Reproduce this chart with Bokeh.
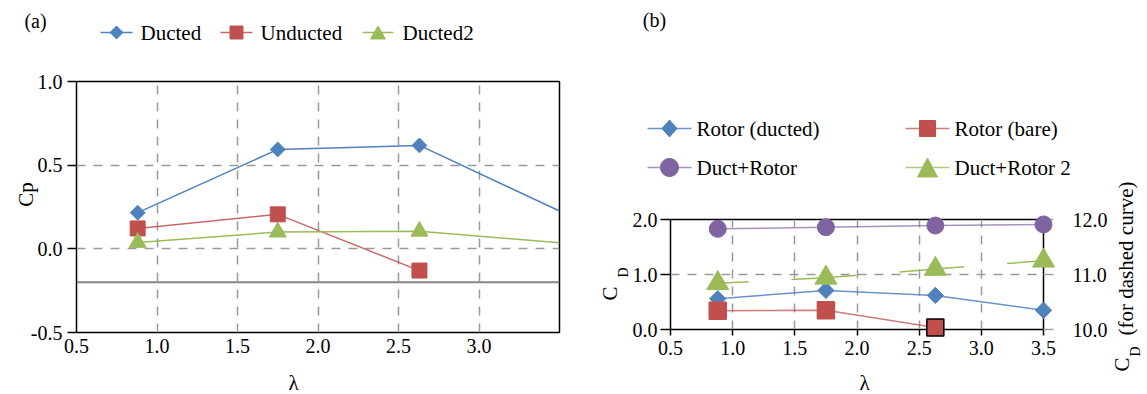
import math
from bokeh.plotting import figure
from bokeh.layouts import row
from bokeh.core.properties import value
from bokeh.models import (ColumnDataSource, Range1d, LinearAxis, FixedTicker, Span,
                          PrintfTickFormatter)
from bokeh.embed import file_html
from bokeh.resources import INLINE

# ---------------- data ----------------
lam = [0.88, 1.75, 2.63, 3.5]

# panel (a)
cp_ducted = [0.216, 0.594, 0.618, 0.226]
cp_unducted = [0.122, 0.206, -0.13]
cp_ducted2 = [0.038, 0.100, 0.105, 0.036]
cp_reference = -0.2
xticks_a = [0.5, 1.0, 1.5, 2.0, 2.5, 3.0]
yticks_a = [-0.5, 0.0, 0.5, 1.0]
legend_a = ["Ducted", "Unducted", "Ducted2"]

# panel (b)
cd_rotor_ducted = [0.56, 0.71, 0.62, 0.35]
cd_rotor_bare = [0.34, 0.35, 0.036]
cd_duct_rotor = [1.83, 1.86, 1.89, 1.91]
cd_duct_rotor2 = [10.84, 10.94, 11.10, 11.25]   # right axis (dashed curve)
xticks_b = [0.5, 1.0, 1.5, 2.0, 2.5, 3.0, 3.5]
yticks_b = [0.0, 1.0, 2.0]
yticks_b_right = [10.0, 11.0, 12.0]
legend_b = ["Rotor (ducted)", "Rotor (bare)", "Duct+Rotor", "Duct+Rotor 2"]

# ---------------- style ----------------
FONT = "'Liberation Serif', 'DejaVu Serif', serif"
TICK_FS = "20px"
LEG_FS = "21px"
BLUE = "#4f81bd"
RED = "#c0504d"
GREEN = "#9bbb59"
PURPLE = "#8064a2"
GRID = "#9a9a9a"
H = 394

XR_A, YR_A = (0.5, 3.5), (-0.5, 1.0)
FRAME_A = (76, 559, 81, 332)          # left, right, top, bottom (figure pixels)
XR_B, YR_B, YR_B2 = (0.5, 3.5), (0.0, 2.0), (10.0, 12.0)
FRAME_B = (90, 463, 219, 329)


def style_axis(ax, tick_out, color="black"):
    ax.major_label_text_font = FONT
    ax.major_label_text_font_size = TICK_FS
    ax.major_label_text_color = "black"
    ax.major_tick_out = tick_out
    ax.major_tick_in = 0
    ax.minor_tick_out = 0
    ax.minor_tick_in = 0
    ax.major_tick_line_color = color
    ax.major_tick_line_width = 1.5
    ax.axis_line_color = None


def style_fig(p):
    p.outline_line_color = "black"
    p.outline_line_width = 1.5
    p.outline_line_alpha = 1.0
    p.background_fill_color = "white"
    p.border_fill_color = "white"
    for g in (p.xgrid[0], p.ygrid[0]):
        g.grid_line_color = GRID
        g.grid_line_dash = "9 8"
        g.grid_line_width = 1.5


def to_data(frame, xr, yr, px, py):
    l, r, t, b = frame
    return (xr[0] + (px - l) / (r - l) * (xr[1] - xr[0]),
            yr[0] + (b - py) / (b - t) * (yr[1] - yr[0]))


def add_text(p, frame, xr, yr, px, py, txt, size, angle=0.0, align="center"):
    x, y = to_data(frame, xr, yr, px, py)
    p.text(x=[x], y=[y], text=[txt], angle=angle,
           text_font=value(FONT), text_font_size=size, text_color="black",
           text_align=align, text_baseline="middle", level="overlay")


def key_shape(kind, cx, cy, w, h):
    """pixel outline of a legend key symbol"""
    if kind == "diamond":
        return [cx, cx + w / 2, cx, cx - w / 2], [cy - h / 2, cy, cy + h / 2, cy]
    if kind == "square":
        return [cx - w / 2, cx + w / 2, cx + w / 2, cx - w / 2], [cy - h / 2, cy - h / 2, cy + h / 2, cy + h / 2]
    if kind == "triangle":
        return [cx, cx + w / 2, cx - w / 2], [cy - h / 2, cy + h / 2, cy + h / 2]
    n = 36
    return ([cx + w / 2 * math.cos(2 * math.pi * k / n) for k in range(n)],
            [cy + h / 2 * math.sin(2 * math.pi * k / n) for k in range(n)])


def legend_key(p, frame, xr, yr, gx0, gx1, gy, tx, label, line_kw, kind, w, h, color):
    x0, y0 = to_data(frame, xr, yr, gx0, gy)
    x1, _ = to_data(frame, xr, yr, gx1, gy)
    p.line([x0, x1], [y0, y0], level="overlay", **line_kw)
    pxs, pys = key_shape(kind, (gx0 + gx1) / 2, gy, w, h)
    pts = [to_data(frame, xr, yr, a, b) for a, b in zip(pxs, pys)]
    p.patch([q[0] for q in pts], [q[1] for q in pts], fill_color=color, line_color=color,
            line_width=1, level="overlay")
    add_text(p, frame, xr, yr, tx, gy, label, LEG_FS, align="left")


# ================= panel (a) =================
pa = figure(width=580, height=H, x_range=Range1d(*XR_A), y_range=Range1d(*YR_A),
            output_backend="svg", toolbar_location=None, frame_align=False,
            min_border_left=76, min_border_right=21, min_border_top=81, min_border_bottom=62)
style_fig(pa)
pa.xaxis.ticker = FixedTicker(ticks=xticks_a)
pa.yaxis.ticker = FixedTicker(ticks=yticks_a)
pa.xgrid.ticker = FixedTicker(ticks=xticks_a)
pa.ygrid.ticker = FixedTicker(ticks=yticks_a)
pa.xaxis.formatter = PrintfTickFormatter(format="%.1f")
pa.yaxis.formatter = PrintfTickFormatter(format="%.1f")
style_axis(pa.xaxis[0], 0)
style_axis(pa.yaxis[0], 9)
pa.xaxis.major_label_standoff = 6
pa.yaxis.major_label_standoff = 5

pa.add_layout(Span(location=cp_reference, dimension="width", line_color="#858585", line_width=2))

ln_blue_a = dict(line_color=BLUE, line_width=1.5)
ln_red_a = dict(line_color=RED, line_width=1.5, line_alpha=0.85)
ln_green_a = dict(line_color=GREEN, line_width=1.5)

pa.line(lam, cp_ducted, **ln_blue_a)
pa.scatter(lam[:3], cp_ducted[:3], marker="square", angle=math.pi / 4, size=10.5,
           fill_color=BLUE, line_color=BLUE)
pa.line(lam[:3], cp_unducted, **ln_red_a)
pa.scatter(lam[:3], cp_unducted, marker="square", size=15, fill_color=RED, line_color=RED)
pa.line(lam, cp_ducted2, **ln_green_a)
pa.scatter(lam[:3], cp_ducted2[:3], marker="triangle", size=17, fill_color=GREEN, line_color=GREEN)

# legend (a) – one row above the frame
leg_a_keys = [((100, 132, 140), ln_blue_a, "diamond", 13, 13, BLUE),
              ((220, 252, 260), ln_red_a, "square", 13, 13, RED),
              ((362, 393, 402), ln_green_a, "triangle", 15, 13, GREEN)]
for ((g0, g1, tx), lk, kind, w, h, c), lab in zip(leg_a_keys, legend_a):
    legend_key(pa, FRAME_A, XR_A, YR_A, g0, g1, 32, tx, lab, lk, kind, w, h, c)

add_text(pa, FRAME_A, XR_A, YR_A, 35, 20, "(a)", "20px")
add_text(pa, FRAME_A, XR_A, YR_A, 25, 194, "Cp", "21px", angle=math.pi / 2)
add_text(pa, FRAME_A, XR_A, YR_A, 293, 382, "λ", "21px")

# ================= panel (b) =================
pb = figure(width=567, height=H, x_range=Range1d(*XR_B), y_range=Range1d(*YR_B),
            output_backend="svg", toolbar_location=None, frame_align=False,
            min_border_left=90, min_border_right=104, min_border_top=219, min_border_bottom=65)
style_fig(pb)
pb.extra_y_ranges = {"right": Range1d(*YR_B2)}
pb.xaxis.ticker = FixedTicker(ticks=xticks_b)
pb.yaxis.ticker = FixedTicker(ticks=yticks_b)
pb.xgrid.ticker = FixedTicker(ticks=xticks_b)
pb.ygrid.ticker = FixedTicker(ticks=yticks_b)
pb.xaxis.formatter = PrintfTickFormatter(format="%.1f")
pb.yaxis.formatter = PrintfTickFormatter(format="%.1f")
style_axis(pb.xaxis[0], 6)
style_axis(pb.yaxis[0], 10)
pb.xaxis.major_label_standoff = 5
pb.yaxis.major_label_standoff = 3

yr = LinearAxis(y_range_name="right", ticker=FixedTicker(ticks=yticks_b_right),
                formatter=PrintfTickFormatter(format="%.1f"))
style_axis(yr, 10, color="#a0a0a0")
yr.major_label_standoff = 19
pb.add_layout(yr, "right")

ln_purple_b = dict(line_color=PURPLE, line_width=1.5, line_alpha=0.7)
ln_blue_b = dict(line_color=BLUE, line_width=1.5, line_alpha=0.85)
ln_green_b = dict(line_color=GREEN, line_width=1.5, line_alpha=0.8)
ln_red_b = dict(line_color=RED, line_width=1.5, line_alpha=0.75)

pb.line(lam, cd_duct_rotor, **ln_purple_b)
pb.scatter(lam, cd_duct_rotor, marker="circle", size=17, fill_color=PURPLE, line_color=PURPLE,
           level="overlay")
pb.line(lam, cd_rotor_ducted, **ln_blue_b)
pb.scatter(lam, cd_rotor_ducted, marker="square", angle=math.pi / 4, size=11.5,
           fill_color=BLUE, line_color=BLUE, level="overlay")
pb.line(lam, cd_duct_rotor2, y_range_name="right", line_dash="65 43", line_dash_offset=34,
        line_color=GREEN, line_width=1.5)
pb.scatter(lam, cd_duct_rotor2, y_range_name="right", marker="triangle", size=22,
           fill_color=GREEN, line_color=GREEN, level="overlay")
pb.line(lam[:3], cd_rotor_bare, **ln_red_b)
src_bare = ColumnDataSource(dict(x=lam[:3], y=cd_rotor_bare, edge=[RED, RED, "black"]))
pb.scatter("x", "y", source=src_bare, marker="square", size=17, fill_color=RED,
           line_color="edge", line_width=1.5, level="overlay")

# legend (b) – 2 x 2 grid above the frame
leg_b_keys = [((67, 111, 116, 128), ln_blue_b, "diamond", 15, 17, BLUE),
              ((325, 369, 374, 128), ln_red_b, "square", 16, 16, RED),
              ((67, 111, 116, 167), ln_purple_b, "circle", 18, 18, PURPLE),
              ((325, 369, 374, 167), ln_green_b, "triangle", 20, 19, GREEN)]
for ((g0, g1, tx, gy), lk, kind, w, h, c), lab in zip(leg_b_keys, legend_b):
    legend_key(pb, FRAME_B, XR_B, YR_B, g0, g1, gy, tx, lab, lk, kind, w, h, c)

add_text(pb, FRAME_B, XR_B, YR_B, 74, 19, "(b)", "20px")
add_text(pb, FRAME_B, XR_B, YR_B, 284, 382, "λ", "21px")
add_text(pb, FRAME_B, XR_B, YR_B, 29, 293, "C", "21px", angle=math.pi / 2)
add_text(pb, FRAME_B, XR_B, YR_B, 43, 272, "D", "14px", angle=math.pi / 2)
add_text(pb, FRAME_B, XR_B, YR_B, 541, 364, "C", "21px", angle=math.pi / 2)
add_text(pb, FRAME_B, XR_B, YR_B, 555, 351, "D", "14px", angle=math.pi / 2)
add_text(pb, FRAME_B, XR_B, YR_B, 545, 258, "(for dashed curve)", "21px", angle=math.pi / 2)

layout = row(pa, pb, spacing=0)
open("out.html", "w").write(file_html(layout, INLINE))
